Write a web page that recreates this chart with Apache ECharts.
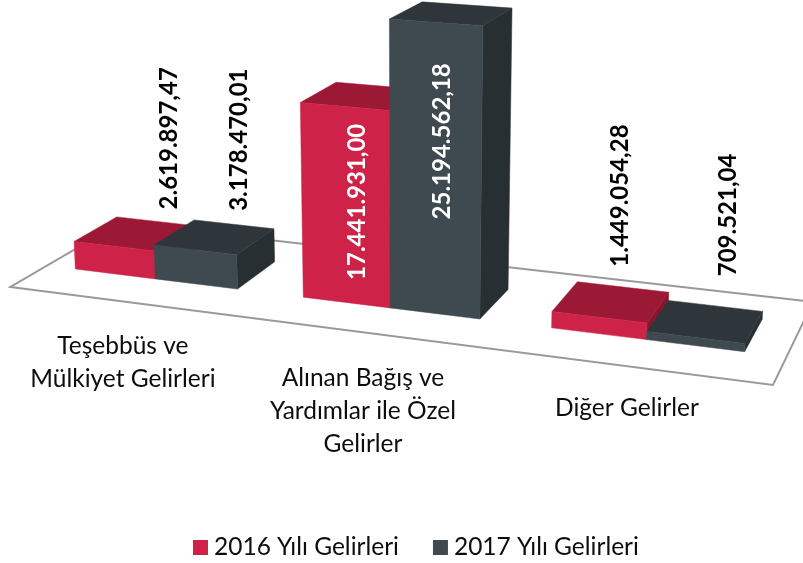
<!DOCTYPE html>
<html>
<head>
<meta charset="utf-8">
<script src="https://cdn.jsdelivr.net/npm/echarts@6/dist/echarts.min.js"></script>
<style>
  html, body { margin: 0; padding: 0; background: #fff; }
  #chart { width: 803px; height: 563px; }
</style>
</head>
<body>
<div id="chart"></div>
<script>
const categories = ['Teşebbüs ve\nMülkiyet Gelirleri', 'Alınan Bağış ve\nYardımlar ile Özel\nGelirler', 'Diğer Gelirler']
const seriesNames = ['2016 Yılı Gelirleri', '2017 Yılı Gelirleri']
const values2016 = [2619897.47, 17441931.00, 1449054.28]
const values2017 = [3178470.01, 25194562.18, 709521.04]

const FONT = 'Lato, "Open Sans", sans-serif'
const FRONT = ['#CE2248', '#3E4A50']
const TOP = ['#9B1934', '#2E363B']
const SIDE = ['#8A152D', '#282F32']
// value label offset from the middle of a bar's top face
const labelDx = [[34, -5, 9], [24, -9, 23]]
const labelDy = [[-24, 184, -35], [-26, 206, -45]]
// offset of the category text from the floor's front edge
const labelDxCat = [-1, -3, -4]
const labelDyCat = [28, 29, 25]

// floor corners on screen: front left, front right, back right, back left
const floor = [[10.5, 287], [773, 385], [813, 302], [120, 223]]
const DEPTH_FRONT = 0.313
const DEPTH_BACK = 0.711
const BAR_SHARE = 0.36
const BAR_SHIFT = -0.0035
const vanish = [410, 7300]
const RISE = -0.0001529

function homography(q) {
  const dx1 = q[1][0] - q[2][0], dx2 = q[3][0] - q[2][0], sx = q[0][0] - q[1][0] + q[2][0] - q[3][0]
  const dy1 = q[1][1] - q[2][1], dy2 = q[3][1] - q[2][1], sy = q[0][1] - q[1][1] + q[2][1] - q[3][1]
  const det = dx1 * dy2 - dx2 * dy1
  const g = (sx * dy2 - dx2 * sy) / det
  const h = (dx1 * sy - sx * dy1) / det
  return {
    a: q[1][0] - q[0][0] + g * q[1][0], b: q[3][0] - q[0][0] + h * q[3][0], c: q[0][0],
    d: q[1][1] - q[0][1] + g * q[1][1], e: q[3][1] - q[0][1] + h * q[3][1], f: q[0][1],
    g: g, h: h
  }
}
const H = homography(floor)

// u along the category axis, v into the depth, z in value axis pixels
function project(u, v, z) {
  const r = z * RISE
  const w = H.g * u + H.h * v + 1 + r
  return [
    (H.a * u + H.b * v + H.c + r * vanish[0]) / w,
    (H.d * u + H.e * v + H.f + r * vanish[1]) / w
  ]
}

function face(points, color) {
  return { type: 'polygon', shape: { points: points }, style: { fill: color, stroke: color, lineWidth: 0.5 } }
}

function fmt(v) {
  const parts = v.toFixed(2).split('.')
  return parts[0].replace(/\B(?=(\d{3})+$)/g, '.') + ',' + parts[1]
}

function renderBar(s) {
  return function (params, api) {
    const rect = params.coordSys
    const cat = api.value(0)
    const val = api.value(1)
    const band = api.size([1, 0])[0]
    const cx = api.coord([cat, 0])[0]
    const x0 = cx + (s - 1) * band * BAR_SHARE
    const u0 = (x0 - rect.x) / rect.width + BAR_SHIFT
    const u1 = u0 + band * BAR_SHARE / rect.width
    const z = api.size([0, val])[1]
    const v0 = DEPTH_FRONT, v1 = DEPTH_BACK
    const mid = project((u0 + u1) / 2, (v0 + v1) / 2, z)
    return {
      type: 'group',
      children: [
        face([project(u1, v0, 0), project(u1, v1, 0), project(u1, v1, z), project(u1, v0, z)], SIDE[s]),
        face([project(u0, v0, z), project(u1, v0, z), project(u1, v1, z), project(u0, v1, z)], TOP[s]),
        face([project(u0, v0, 0), project(u1, v0, 0), project(u1, v0, z), project(u0, v0, z)], api.visual('color')),
        {
          type: 'text',
          x: mid[0] + labelDx[s][cat],
          y: mid[1] + labelDy[s][cat],
          rotation: Math.PI / 2,
          z2: 10,
          style: {
            text: fmt(val),
            align: 'left',
            verticalAlign: 'middle',
            font: 'bold 24px ' + FONT,
            fill: labelDy[s][cat] > 0 ? '#fff' : '#000'
          }
        }
      ]
    }
  }
}

function renderFloor() {
  return {
    type: 'polygon',
    shape: { points: [project(0, 0, 0), project(1, 0, 0), project(1, 1, 0), project(0, 1, 0)] },
    style: { fill: '#fff', stroke: '#999999', lineWidth: 2 }
  }
}

function renderCategory(params, api) {
  const rect = params.coordSys
  const cat = api.value(0)
  const u = (api.coord([cat, 0])[0] - rect.x) / rect.width
  const p = project(u, 0, 0)
  return {
    type: 'text',
    x: p[0] + labelDxCat[cat],
    y: p[1] + labelDyCat[cat],
    style: {
      text: categories[cat],
      align: 'center',
      verticalAlign: 'top',
      font: '24.5px ' + FONT,
      lineHeight: 33,
      fill: '#0d0d0d'
    }
  }
}

function barSeries(s, values) {
  return {
    type: 'custom',
    name: seriesNames[s],
    renderItem: renderBar(s),
    itemStyle: { color: FRONT[s] },
    data: values.map((v, i) => [i, v]),
    encode: { x: 0, y: 1 },
    clip: false,
    animation: false
  }
}

const chart = echarts.init(document.getElementById('chart'))
chart.setOption({
  animation: false,
  grid: { left: 10, top: 100, width: 763, height: 300 },
  xAxis: { type: 'category', data: categories, show: false },
  yAxis: { type: 'value', min: 0, max: 30000000, show: false },
  legend: {
    data: seriesNames,
    top: 535,
    left: 193,
    icon: 'rect',
    itemWidth: 15,
    itemHeight: 15,
    itemGap: 34,
    padding: 0,
    textStyle: { fontFamily: FONT, fontSize: 24.5, color: '#0d0d0d', padding: [0, 0, 0, 1] }
  },
  series: [
    { type: 'custom', name: 'floor', renderItem: renderFloor, data: [[0, 0]], encode: { x: 0, y: 1 }, silent: true },
    { type: 'custom', name: 'labels', renderItem: renderCategory, data: categories.map((c, i) => [i, 0]), encode: { x: 0, y: 1 }, silent: true },
    barSeries(0, values2016),
    barSeries(1, values2017)
  ]
})
</script>
</body>
</html>
